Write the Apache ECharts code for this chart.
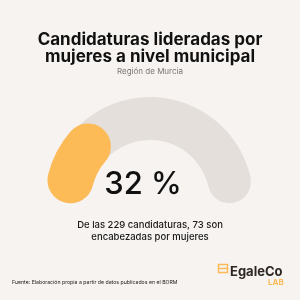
<!DOCTYPE html>
<html>
<head>
<meta charset="utf-8">
<script src="https://cdn.jsdelivr.net/npm/echarts@6/dist/echarts.min.js"></script>
<style>
html,body{margin:0;padding:0;background:#f6f3f0;}
#c{width:300px;height:300px;}
</style>
</head>
<body>
<div id="c"></div>
<script>
// ---- data ----
const titleLines = ['Candidaturas lideradas por', 'mujeres a nivel municipal'];
const subtitle = 'Región de Murcia';
const shareWomen = [32];          // % of candidacies led by women
const totalCandidacies = [229];
const womenLed = [73];
const sourceText = 'Fuente: Elaboración propia a partir de datos publicados en el BORM';

// ---- layout ----
const FONT = 'Inter, "Open Sans", sans-serif';
const cx = 150, cy = 200;
const trackR = 103, trackW = 43;
const progR = 105, progW = 46;
const startA = 167, endA = 13;
const deg = 180 / Math.PI;
const trackCap = (trackW / 2) / (trackR - trackW / 2) * deg;
const progCap = (progW / 2) / (progR - progW / 2) * deg;
const visibleStart = startA + trackCap;
const visibleSpan = (startA - endA) + 2 * trackCap;
const frac = shareWomen[0] / 100;
const progStart = visibleStart - progCap;
const progEndVisible = visibleStart - frac * visibleSpan;
const progEndCenter = progEndVisible + progCap;
const progEndAngle = progStart - (progStart - progEndCenter) / frac;

const hidden = {
  pointer: { show: false }, axisTick: { show: false }, splitLine: { show: false },
  axisLabel: { show: false }, title: { show: false }, anchor: { show: false }
};

const chart = echarts.init(document.getElementById('c'), null, { renderer: 'canvas' });
chart.setOption({
  backgroundColor: '#f6f3f0',
  animation: false,
  series: [
    Object.assign({
      type: 'gauge', center: [cx, cy], radius: trackR,
      startAngle: startA, endAngle: endA, min: 0, max: 100,
      axisLine: { roundCap: true, lineStyle: { width: trackW, color: [[1, '#e4dfdb']] } },
      progress: { show: false },
      detail: { show: false },
      data: [{ value: 0 }]
    }, hidden),
    Object.assign({
      type: 'gauge', center: [cx, cy], radius: progR,
      startAngle: progStart, endAngle: progEndAngle, min: 0, max: 100,
      axisLine: { show: false },
      progress: { show: true, roundCap: true, width: progW, itemStyle: { color: '#fdbb58' } },
      detail: {
        show: true, formatter: '{value} %', offsetCenter: [-7, -15],
        fontFamily: FONT, fontSize: 31, fontWeight: 500, color: '#111111'
      },
      data: [{ value: shareWomen[0] }]
    }, hidden)
  ],
  graphic: [
    { type: 'text', left: 'center', top: 31, style: {
        text: titleLines.join('\n'), font: 'bold 17px ' + FONT, fill: '#111111',
        textAlign: 'center', lineHeight: 17 } },
    { type: 'text', left: 'center', top: 68, style: {
        text: subtitle, font: '8px ' + FONT, fill: '#777777', textAlign: 'center' } },
    { type: 'text', left: 'center', top: 219, style: {
        text: 'De las ' + totalCandidacies[0] + ' candidaturas, ' + womenLed[0] + ' son\nencabezadas por mujeres',
        font: '500 9.5px ' + FONT, fill: '#1a1a1a', textAlign: 'center', lineHeight: 12 } },
    { type: 'text', left: 12, top: 280, style: {
        text: sourceText, font: '5.2px ' + FONT, fill: '#222222' } },
    { type: 'rect', shape: { x: 218.5, y: 264.5, width: 9, height: 8 }, style: { fill: 'none', stroke: '#fdbb58', lineWidth: 1.5 } },
    { type: 'line', shape: { x1: 218.5, y1: 268.5, x2: 227.5, y2: 268.5 }, style: { stroke: '#fdbb58', lineWidth: 1.5 } },
    { type: 'text', left: 230, top: 266, style: {
        text: 'EgaleCo', font: 'bold 13px ' + FONT, fill: '#2e2622' } },
    { type: 'text', left: 268, top: 279, style: {
        text: 'LAB', font: 'bold 8px ' + FONT, fill: '#fdbb58' } }
  ]
});
</script>
</body>
</html>
